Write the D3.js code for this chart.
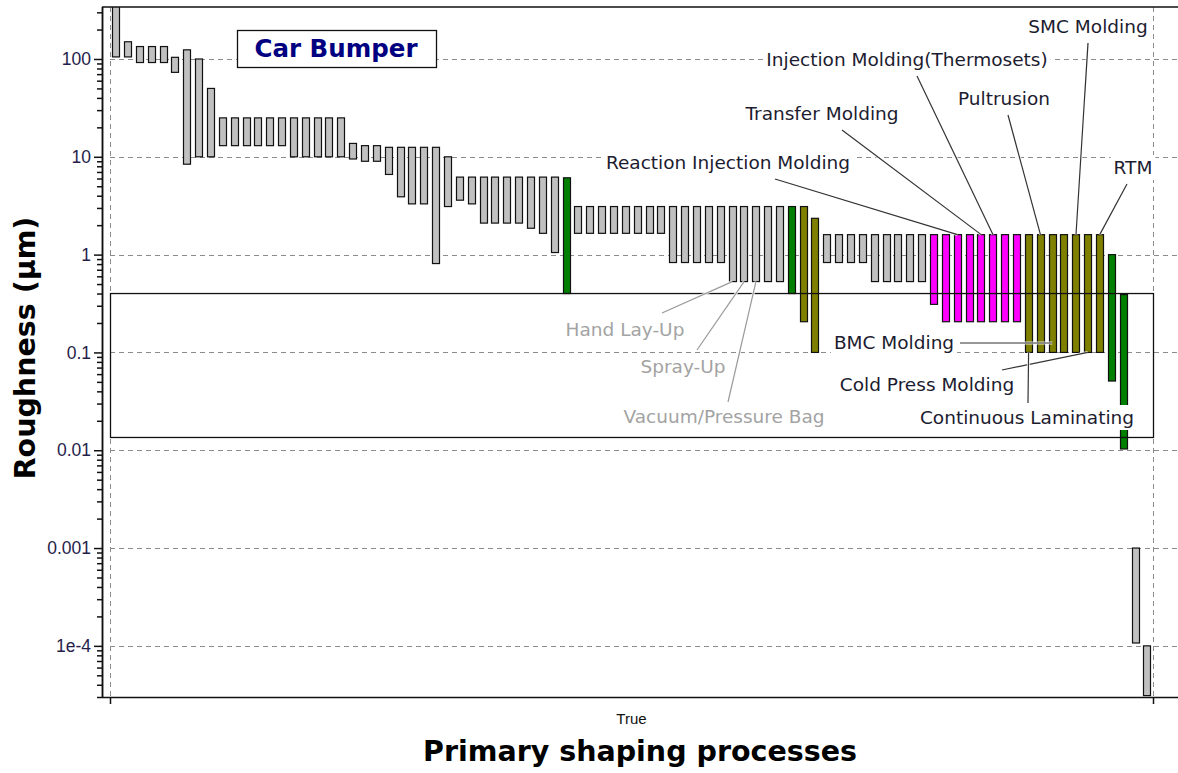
<!DOCTYPE html>
<html>
<head>
<meta charset="utf-8">
<script src="https://cdn.jsdelivr.net/npm/d3@7"></script>
<style>
  body { margin: 0; background: #fff; }
  svg { display: block; }
</style>
</head>
<body>
<div class="app"></div>
<script>
// Roughness ranges (um) for the primary shaping processes, left to right.
var lows = [
  105, 105, 92, 92, 92, 73, 8.4, 10, 10,
  13, 13, 13, 13, 13, 13,
  10, 10, 10, 10, 10,
  9.5, 9, 9, 6.6, 3.9, 3.3, 3.3, 0.81, 3.1, 3.6, 3.3,
  2.1, 2.1, 2.1, 2.1, 1.86, 1.65, 1.05, 0.4,
  1.65, 1.65, 1.65, 1.65, 1.65, 1.65, 1.65, 1.65,
  0.83, 0.83, 0.83, 0.83, 0.83,
  0.53, 0.53, 0.53, 0.53, 0.53,
  0.4, 0.206, 0.1,
  0.83, 0.83, 0.83, 0.83,
  0.53, 0.53, 0.53, 0.53, 0.53,
  0.31, 0.206, 0.206, 0.206, 0.206, 0.206, 0.206, 0.206,
  0.1, 0.1, 0.1, 0.1, 0.1, 0.1, 0.1,
  0.051, 0.0103, 0.000107, 0.000031
];
var highs = [
  400, 150, 134, 134, 134, 104, 124, 100, 50,
  25, 25, 25, 25, 25, 25,
  25, 25, 25, 25, 25,
  13.7, 13, 13, 12.5, 12.5, 12.5, 12.5, 12.5, 10, 6.2, 6.2,
  6.2, 6.2, 6.2, 6.2, 6.2, 6.2, 6.2, 6.1,
  3.1, 3.1, 3.1, 3.1, 3.1, 3.1, 3.1, 3.1,
  3.1, 3.1, 3.1, 3.1, 3.1,
  3.1, 3.1, 3.1, 3.1, 3.1,
  3.1, 3.1, 2.35,
  1.6, 1.6, 1.6, 1.6,
  1.6, 1.6, 1.6, 1.6, 1.6,
  1.6, 1.6, 1.6, 1.6, 1.6, 1.6, 1.6, 1.6,
  1.6, 1.6, 1.6, 1.6, 1.6, 1.6, 1.6,
  1.0, 0.39, 0.001, 0.0001
];
// g = other processes, c = green, o = olive, m = magenta
var groups = [
  "g","g","g","g","g","g","g","g","g",
  "g","g","g","g","g","g",
  "g","g","g","g","g",
  "g","g","g","g","g","g","g","g","g","g","g",
  "g","g","g","g","g","g","g","c",
  "g","g","g","g","g","g","g","g",
  "g","g","g","g","g",
  "g","g","g","g","g",
  "c","o","o",
  "g","g","g","g",
  "g","g","g","g","g",
  "m","m","m","m","m","m","m","m",
  "o","o","o","o","o","o","o",
  "c","c","g","g"
];

var categories = ["True"];
var yTicks = [0.0001, 0.001, 0.01, 0.1, 1, 10, 100];
var yTickLabels = ["1e-4", "0.001", "0.01", "0.1", "1", "10", "100"];
var target = [0.0135, 0.4];   // the limit box drawn over the bars

// labelled processes: name, bar index, which end of the bar the leader points to
var labelNames = [
  "Reaction Injection Molding", "Transfer Molding", "Injection Molding(Thermosets)",
  "Pultrusion", "SMC Molding", "RTM",
  "Hand Lay-Up", "Spray-Up", "Vacuum/Pressure Bag",
  "BMC Molding", "Cold Press Molding", "Continuous Laminating"
];
var labelBars = [71, 73, 74, 78, 81, 83, 52, 53, 54, 79, 82, 77];
var labelEnds = ["hi", "hi", "hi", "hi", "hi", "hi", "lo", "lo", "lo", "mid", "lo", "lo"];

// where the label texts sit (text centre x, baseline y, leader start x, y)
var labelLayout = [
  [728, 169, 775, 179], [822, 120, 842, 130], [907, 66, 917, 76],
  [1004, 105, 1008, 115], [1088, 33, 1088, 43], [1133, 174, 1127, 184],
  [625, 336, 662, 313], [683, 373, 697, 350], [724, 423, 728, 402],
  [894, 349, 960, 343], [927, 391, 1002, 370], [1027, 424, 1028, 403]
];
var mutedLabels = ["Hand Lay-Up", "Spray-Up", "Vacuum/Pressure Bag"];

var colors = {g: "#c0c0c0", c: "#007f00", o: "#808000", m: "#ff00ff"};

var W = 1178, H = 773,
    plot = {left: 102, right: 1178, top: 7, bottom: 697};

var svg = d3.select(".app").append("svg")
    .attr("width", W)
    .attr("height", H);

var x = d3.scaleBand().domain(categories).range([110, 1153]);
var xBar = d3.scaleBand()
    .domain(d3.range(lows.length))
    .range([x("True"), x("True") + x.bandwidth()])
    .paddingInner(0.37)
    .paddingOuter(0.18);
var y = d3.scaleLog().domain([3e-5, 340]).range([plot.bottom, plot.top]);

svg.append("clipPath").attr("id", "clip")
  .append("rect")
    .attr("x", plot.left)
    .attr("y", plot.top)
    .attr("width", plot.right - plot.left)
    .attr("height", plot.bottom - plot.top);

// grid
var grid = svg.append("g").attr("class", "grid")
    .attr("stroke", "#8c8c8c")
    .attr("stroke-dasharray", "5,4");

grid.selectAll("line.h")
    .data(yTicks)
    .enter().append("line")
    .attr("class", "h")
    .attr("x1", x.range()[0])
    .attr("x2", plot.right)
    .attr("y1", function(d){ return Math.round(y(d)) + 0.5; })
    .attr("y2", function(d){ return Math.round(y(d)) + 0.5; });

grid.selectAll("line.v")
    .data(x.range())
    .enter().append("line")
    .attr("class", "v")
    .attr("x1", function(d){ return d + 0.5; })
    .attr("x2", function(d){ return d + 0.5; })
    .attr("y1", plot.top)
    .attr("y2", plot.bottom);

// bars
svg.append("g")
    .attr("clip-path", "url(#clip)")
  .selectAll("rect")
    .data(lows)
    .enter().append("rect")
    .attr("x", function(d, i){ return Math.round(xBar(i)) + 0.5; })
    .attr("width", Math.round(xBar.bandwidth()))
    .attr("y", function(d, i){ return y(highs[i]); })
    .attr("height", function(d, i){ return y(lows[i]) - y(highs[i]); })
    .attr("fill", function(d, i){ return colors[groups[i]]; })
    .attr("stroke", "#111")
    .attr("stroke-width", 1.2);

// limit box
svg.append("rect")
    .attr("x", x.range()[0] + 0.5)
    .attr("y", y(target[1]))
    .attr("width", x.bandwidth())
    .attr("height", y(target[0]) - y(target[1]))
    .attr("fill", "none")
    .attr("stroke", "#111")
    .attr("stroke-width", 1.3);

// axes
var yAxis = d3.axisLeft(y)
    .tickValues(yTicks)
    .tickFormat(function(d, i){ return yTickLabels[i]; })
    .tickSize(8)
    .tickPadding(3);

var minor = [];
yTicks.concat([1e-5]).forEach(function(t){
  [2, 3, 4, 5, 6, 7, 8, 9].forEach(function(k){
    var v = t * k;
    if (v >= y.domain()[0] && v <= y.domain()[1]) minor.push(v);
  });
});

var yMinor = d3.axisLeft(y).tickValues(minor).tickFormat("").tickSize(5);

var gy = svg.append("g")
    .attr("transform", "translate(" + plot.left + ",0)")
    .call(yAxis);
svg.append("g")
    .attr("transform", "translate(" + plot.left + ",0)")
    .call(yMinor);

gy.selectAll("text")
    .style("font-family", "'Liberation Sans', Arial, sans-serif")
    .style("font-size", "17.5px")
    .attr("fill", "#261d4a");

svg.selectAll(".domain").attr("stroke", "#111").attr("stroke-width", 1.5)
    .attr("d", "M0.5," + plot.top + "V" + plot.bottom);
svg.selectAll(".tick line").attr("stroke", "#111").attr("stroke-width", 1.5);

var gx = svg.append("g")
    .attr("transform", "translate(0," + plot.bottom + ")")
    .call(d3.axisBottom(x).tickSize(0).tickPadding(16));
gx.select(".domain").remove();
gx.selectAll("text")
    .style("font-family", "'Liberation Sans', Arial, sans-serif")
    .style("font-size", "15px")
    .attr("fill", "#111");

// frame lines, bottom and top
svg.append("line")
    .attr("x1", plot.left).attr("x2", plot.right)
    .attr("y1", plot.bottom + 0.5).attr("y2", plot.bottom + 0.5)
    .attr("stroke", "#111").attr("stroke-width", 1.5);
svg.append("line")
    .attr("x1", plot.left).attr("x2", plot.right)
    .attr("y1", plot.top).attr("y2", plot.top)
    .attr("stroke", "#111").attr("stroke-width", 1.5);

svg.selectAll("line.edge")
    .data(x.range())
    .enter().append("line")
    .attr("class", "edge")
    .attr("x1", function(d){ return d + 0.5; })
    .attr("x2", function(d){ return d + 0.5; })
    .attr("y1", plot.bottom)
    .attr("y2", plot.bottom + 7)
    .attr("stroke", "#111")
    .attr("stroke-width", 1.5);

// leader lines
function endPoint(i) {
  var b = labelBars[i],
      cx = xBar(b) + xBar.bandwidth() / 2;
  if (labelEnds[i] === "hi") return [cx, y(highs[b])];
  if (labelEnds[i] === "lo") return [cx, y(lows[b])];
  return [cx, labelLayout[i][3]];
}

var leaders = svg.append("g").attr("class", "leaders");
labelNames.forEach(function(name, i){
  var p = endPoint(i), muted = mutedLabels.indexOf(name) >= 0;
  leaders.append("line")
      .attr("x1", labelLayout[i][2]).attr("y1", labelLayout[i][3])
      .attr("x2", p[0]).attr("y2", p[1])
      .attr("stroke", "#fff").attr("stroke-width", 3).attr("stroke-opacity", 0.8);
  leaders.append("line")
      .attr("x1", labelLayout[i][2]).attr("y1", labelLayout[i][3])
      .attr("x2", p[0]).attr("y2", p[1])
      .attr("stroke", muted ? "#9a9a9a" : "#333")
      .attr("stroke-width", 1.2);
});

// labels with a white backing
var labels = svg.append("g").attr("class", "labels");
labelNames.forEach(function(name, i){
  var muted = mutedLabels.indexOf(name) >= 0;
  var t = labels.append("text")
      .attr("x", labelLayout[i][0])
      .attr("y", labelLayout[i][1])
      .attr("text-anchor", "middle")
      .style("font-family", "'DejaVu Sans', Verdana, sans-serif")
      .style("font-size", "18.5px")
      .attr("fill", muted ? "#a3a3a3" : "#1c1c30")
      .text(name);
  var bb = t.node().getBBox();
  labels.insert("rect", function(){ return t.node(); })
      .attr("x", bb.x - 3).attr("y", bb.y - 2)
      .attr("width", bb.width + 6).attr("height", bb.height + 4)
      .attr("fill", "#fff");
});

// title box
svg.append("rect")
    .attr("x", 237.5).attr("y", 30.5)
    .attr("width", 199).attr("height", 37)
    .attr("fill", "#fff")
    .attr("stroke", "#111")
    .attr("stroke-width", 1.3);
svg.append("text")
    .attr("x", 336).attr("y", 57)
    .attr("text-anchor", "middle")
    .style("font-family", "'DejaVu Sans', Verdana, sans-serif")
    .style("font-weight", "bold")
    .style("font-size", "24.5px")
    .attr("fill", "#000080")
    .text("Car Bumper");

// axis titles
svg.append("text")
    .attr("transform", "translate(35," + 348 + ") rotate(-90)")
    .attr("text-anchor", "middle")
    .style("font-family", "'DejaVu Sans', Verdana, sans-serif")
    .style("font-weight", "bold")
    .style("font-size", "28.5px")
    .attr("fill", "#000")
    .text("Roughness (\u00b5m)");

svg.append("text")
    .attr("x", 640).attr("y", 761)
    .attr("text-anchor", "middle")
    .style("font-family", "'DejaVu Sans', Verdana, sans-serif")
    .style("font-weight", "bold")
    .style("font-size", "28.5px")
    .attr("fill", "#000")
    .text("Primary shaping processes");
</script>
</body>
</html>
